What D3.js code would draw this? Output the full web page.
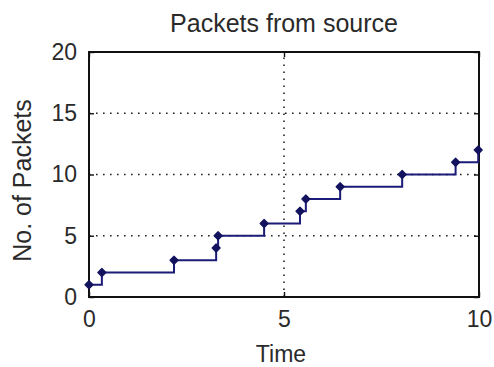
<!DOCTYPE html>
<html>
<head>
<meta charset="utf-8">
<script src="https://cdn.jsdelivr.net/npm/d3@7"></script>
<style>
  html, body { margin: 0; padding: 0; background: #fff; }
  svg { display: block; }
  text { font-family: "Liberation Sans", Arial, sans-serif; fill: #2a2a2a; }
</style>
</head>
<body>
<svg id="chart" width="494" height="367"></svg>
<script>
// Arrival time of each packet and the running packet count
const arrivalTimes = [0, 0.33, 2.18, 3.26, 3.31, 4.49, 5.41, 5.56, 6.44, 8.03, 9.40, 9.98];
const packetCounts = [1, 2, 3, 4, 5, 6, 7, 8, 9, 10, 11, 12];

const xTicks = [0, 5, 10];
const yTicks = [0, 5, 10, 15, 20];

const titleText = "Packets from source";
const xLabel = "Time";
const yLabel = "No. of Packets";

const data = arrivalTimes.map((t, i) => ({ t, n: packetCounts[i] }));

const svg = d3.select("#chart");
const margin = { left: 89, right: 15, top: 52, bottom: 70 };
const W = 494, H = 367;
const x = d3.scaleLinear().domain([0, 10]).range([margin.left, W - margin.right]);
const y = d3.scaleLinear().domain([0, 20]).range([H - margin.bottom, margin.top]);

const lineColor = "#1b1b78";
const markColor = "#12125e";
const fontSize = 23;

// dotted grid
const grid = svg.append("g").attr("stroke", "#222").attr("stroke-width", 1.6)
  .attr("stroke-dasharray", "1.6,5.4");
grid.selectAll("line.gy").data(yTicks.slice(1, -1)).join("line")
  .attr("x1", x(0)).attr("x2", x(10)).attr("y1", d => y(d)).attr("y2", d => y(d));
grid.selectAll("line.gx").data(xTicks.slice(1, -1)).join("line")
  .attr("y1", y(0)).attr("y2", y(20)).attr("x1", d => x(d)).attr("x2", d => x(d));

// axes with inward ticks on all four sides
const tickLen = 5;
const axisBottom = d3.axisBottom(x).tickValues(xTicks).tickSizeInner(-tickLen).tickSizeOuter(0).tickPadding(14);
const axisLeft = d3.axisLeft(y).tickValues(yTicks).tickSizeInner(-tickLen).tickSizeOuter(0).tickPadding(12);
const axisTop = d3.axisTop(x).tickValues(xTicks).tickSizeInner(-tickLen).tickSizeOuter(0).tickFormat("");
const axisRight = d3.axisRight(y).tickValues(yTicks).tickSizeInner(-tickLen).tickSizeOuter(0).tickFormat("");

function styleAxis(g) {
  g.select(".domain").remove();
  g.selectAll(".tick line").attr("stroke", "#111").attr("stroke-width", 1.4);
  g.selectAll(".tick text").attr("font-size", fontSize)
    .attr("font-family", "Liberation Sans, Arial, sans-serif").attr("fill", "#2a2a2a");
}
svg.append("g").attr("transform", `translate(0,${y(0)})`).call(axisBottom).call(styleAxis);
svg.append("g").attr("transform", `translate(${x(0)},0)`).call(axisLeft).call(styleAxis);
svg.append("g").attr("transform", `translate(0,${y(20)})`).call(axisTop).call(styleAxis);
svg.append("g").attr("transform", `translate(${x(10)},0)`).call(axisRight).call(styleAxis);

// axes box
svg.append("rect")
  .attr("x", x(0)).attr("y", y(20))
  .attr("width", x(10) - x(0)).attr("height", y(0) - y(20))
  .attr("fill", "none").attr("stroke", "#111").attr("stroke-width", 2);

// staircase of packet arrivals
const stairs = d3.line().x(d => x(d.t)).y(d => y(d.n)).curve(d3.curveStepAfter);
svg.append("path").datum(data)
  .attr("d", stairs)
  .attr("fill", "none").attr("stroke", lineColor).attr("stroke-width", 2);

// square-proportioned diamond marker
const squareDiamond = {
  draw(ctx, size) {
    const r = Math.sqrt(size / 2);
    ctx.moveTo(0, -r); ctx.lineTo(r, 0); ctx.lineTo(0, r); ctx.lineTo(-r, 0); ctx.closePath();
  }
};
const diamond = d3.symbol().type(squareDiamond).size(32);
svg.append("g").selectAll("path").data(data).join("path")
  .attr("transform", d => `translate(${x(d.t)},${y(d.n)})`)
  .attr("d", diamond)
  .attr("fill", markColor).attr("stroke", markColor).attr("stroke-width", 1.2)
  .attr("stroke-linejoin", "round");

// title and axis labels
svg.append("text").attr("x", (x(0) + x(10)) / 2).attr("y", 32)
  .attr("text-anchor", "middle").attr("font-size", 25).text(titleText);
svg.append("text").attr("x", (x(0) + x(10)) / 2 - 3).attr("y", 362)
  .attr("text-anchor", "middle").attr("font-size", fontSize).text(xLabel);
svg.append("text")
  .attr("transform", `translate(31,${(y(0) + y(20)) / 2 + 6}) rotate(-90)`)
  .attr("text-anchor", "middle").attr("font-size", 25).text(yLabel);
</script>
</body>
</html>
